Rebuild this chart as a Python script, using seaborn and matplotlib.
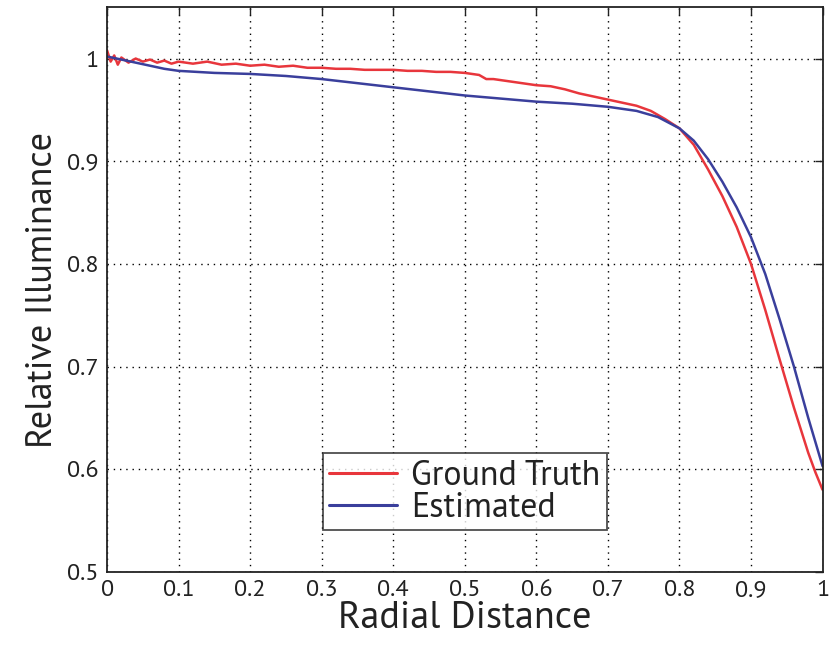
import numpy as np
import pandas as pd
import matplotlib
matplotlib.use("Agg")
import matplotlib.pyplot as plt
import seaborn as sns

# Measured illuminance fall-off (ground truth)
gt_r = [0.0, 0.005, 0.01, 0.015, 0.02, 0.03, 0.04, 0.05, 0.06, 0.07, 0.08, 0.09,
        0.10, 0.12, 0.14, 0.16, 0.18, 0.20, 0.22, 0.24, 0.26, 0.28, 0.30, 0.32,
        0.34, 0.36, 0.38, 0.40, 0.42, 0.44, 0.46, 0.48, 0.50, 0.52, 0.53, 0.54,
        0.56, 0.58, 0.60, 0.62, 0.64, 0.66, 0.68, 0.70, 0.72, 0.74, 0.76, 0.78,
        0.80, 0.82, 0.84, 0.86, 0.88, 0.90, 0.92, 0.94, 0.96, 0.98, 0.99, 1.0]
gt_v = [1.008, 0.997, 1.003, 0.994, 1.001, 0.996, 1.000, 0.997, 0.999, 0.996, 0.998, 0.995,
        0.997, 0.995, 0.997, 0.994, 0.995, 0.993, 0.994, 0.992, 0.993, 0.991, 0.991, 0.990,
        0.990, 0.989, 0.989, 0.989, 0.988, 0.988, 0.987, 0.987, 0.986, 0.984, 0.980, 0.980,
        0.978, 0.976, 0.974, 0.973, 0.970, 0.966, 0.963, 0.960, 0.957, 0.954, 0.949, 0.941,
        0.932, 0.916, 0.892, 0.866, 0.836, 0.800, 0.755, 0.707, 0.660, 0.616, 0.597, 0.580]

# Model estimate
est_r = [0.0, 0.02, 0.04, 0.06, 0.08, 0.10, 0.15, 0.20, 0.25, 0.30, 0.35, 0.40,
         0.45, 0.50, 0.55, 0.60, 0.65, 0.70, 0.74, 0.77, 0.80, 0.82, 0.84, 0.86,
         0.88, 0.90, 0.92, 0.94, 0.96, 0.98, 1.0]
est_v = [1.002, 0.999, 0.996, 0.993, 0.990, 0.988, 0.986, 0.985, 0.983, 0.980, 0.976, 0.972,
         0.968, 0.964, 0.961, 0.958, 0.956, 0.953, 0.949, 0.943, 0.932, 0.920, 0.902, 0.880,
         0.855, 0.826, 0.790, 0.746, 0.700, 0.650, 0.603]

series_names = ["Ground Truth", "Estimated"]
series_colors = ["#e8363c", "#3a3f9c"]
x_ticks = [0, 0.1, 0.2, 0.3, 0.4, 0.5, 0.6, 0.7, 0.8, 0.9, 1]
x_tick_labels = ["0", "0.1", "0.2", "0.3", "0.4", "0.5", "0.6", "0.7", "0.8", "0.9", "1"]
y_ticks = [0.5, 0.6, 0.7, 0.8, 0.9, 1.0]
y_tick_labels = ["0.5", "0.6", "0.7", "0.8", "0.9", "1"]

df = pd.concat([
    pd.DataFrame({"r": gt_r, "v": gt_v, "series": series_names[0]}),
    pd.DataFrame({"r": est_r, "v": est_v, "series": series_names[1]}),
], ignore_index=True)

sns.set_theme(style="white")
plt.rcParams["font.family"] = ["PT Sans", "DejaVu Sans"]

fig = plt.figure(figsize=(8.3, 6.55), dpi=100)
ax = fig.add_axes([0.129, 0.127, 0.862, 0.862])

sns.lineplot(data=df, x="r", y="v", hue="series", hue_order=series_names,
             palette=series_colors, linewidth=1.8, ax=ax, sort=False,
             estimator=None)

ax.set_xlim(0, 1)
ax.set_ylim(0.5, 1.05)
ax.set_xticks(x_ticks)
ax.set_xticklabels(x_tick_labels)
ax.set_yticks(y_ticks)
ax.set_yticklabels(y_tick_labels)
ax.tick_params(axis="both", direction="in", length=6, width=1, colors="#222222",
               labelsize=17.5, top=True, right=True, pad=6)
ax.grid(True, color="black", linestyle=(0, (1, 3.5)), linewidth=1.0)
for s in ax.spines.values():
    s.set_color("#222222")
    s.set_linewidth(1.3)

ax.set_xlabel("Radial Distance", fontsize=27.5, color="#222222", labelpad=0)
ax.set_ylabel("Relative Illuminance", fontsize=26, color="#222222", labelpad=6)

leg = ax.legend(loc="center", bbox_to_anchor=(0.5, 0.142), fontsize=24.5,
                frameon=True, fancybox=False, edgecolor="#222222",
                handlelength=2.0, handletextpad=0.4, borderpad=0.2,
                labelspacing=0.0, borderaxespad=0)
leg.get_frame().set_linewidth(1.3)
for t in leg.get_texts():
    t.set_color("#222222")
for h in leg.get_lines():
    h.set_linewidth(2.2)

fig.savefig("out.png", dpi=100)
